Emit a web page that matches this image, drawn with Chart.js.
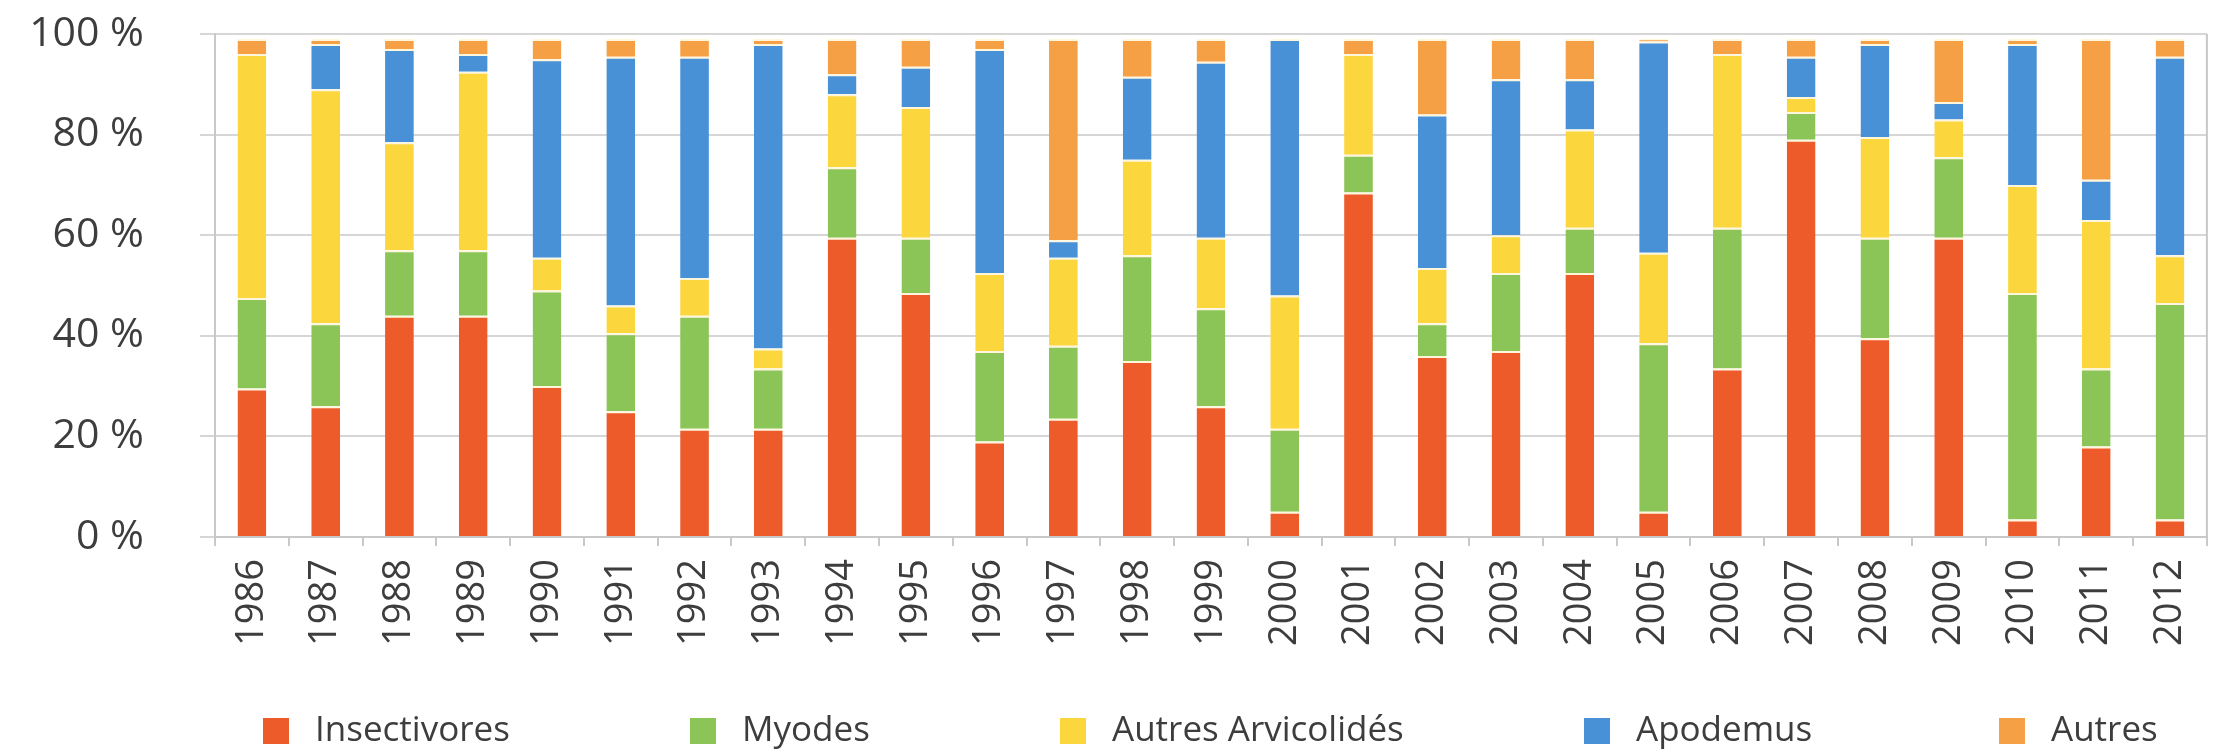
<!DOCTYPE html>
<html>
<head>
<meta charset="utf-8">
<script src="https://cdn.jsdelivr.net/npm/chart.js@4.4.1/dist/chart.umd.min.js"></script>
<style>
  html, body { margin: 0; padding: 0; background: #fff; }
  canvas { display: block; }
</style>
</head>
<body>
<canvas id="chart" width="2229" height="751"></canvas>
<script>
// Années
const years = ['1986', '1987', '1988', '1989', '1990', '1991', '1992', '1993', '1994',
  '1995', '1996', '1997', '1998', '1999', '2000', '2001', '2002', '2003', '2004',
  '2005', '2006', '2007', '2008', '2009', '2010', '2011', '2012'];

// Parts (%)
const insectivores = [29.5, 26, 44, 44, 30, 25, 21.5, 21.5, 59.5, 48.5, 19, 23.5, 35, 26,
  5, 68.5, 36, 37, 52.5, 5, 33.5, 79, 39.5, 59.5, 3.5, 18, 3.5];
const myodes = [18, 16.5, 13, 13, 19, 15.5, 22.5, 12, 14, 11, 18, 14.5, 21, 19.5,
  16.5, 7.5, 6.5, 15.5, 9, 33.5, 28, 5.5, 20, 16, 45, 15.5, 43];
const autresArvicolides = [48.5, 46.5, 21.5, 35.5, 6.5, 5.5, 7.5, 4, 14.5, 26, 15.5, 17.5, 19, 14,
  26.5, 20, 11, 7.5, 19.5, 18, 34.5, 3, 20, 7.5, 21.5, 29.5, 9.5];
const apodemus = [0, 9, 18.5, 3.5, 39.5, 49.5, 44, 60.5, 4, 8, 44.5, 3.5, 16.5, 35,
  51, 0, 30.5, 31, 10, 42, 0, 8, 18.5, 3.5, 28, 8, 39.5];
const autres = [3, 1, 2, 3, 4, 3.5, 3.5, 1, 7, 5.5, 2, 40, 7.5, 4.5,
  0, 3, 15, 8, 8, 0.5, 3, 3.5, 1, 12.5, 1, 28, 3.5];

const yTicks = [0, 20, 40, 60, 80, 100];

const FONT = "'Open Sans', 'Noto Sans', sans-serif";
const TEXT = '#3d3d3d';

function serie(label, data, color) {
  return {
    label: label,
    data: data,
    backgroundColor: color,
    borderColor: '#fff6dc',
    borderWidth: { top: 2, right: 0, bottom: 0, left: 0 },
    borderSkipped: 'start',
    categoryPercentage: 1,
    barPercentage: 0.39
  };
}

// Légende et cadre droit dessinés à la main
const legendePlugin = {
  id: 'legendeMaison',
  afterDraw(chart, args, opts) {
    const ctx = chart.ctx;
    const area = chart.chartArea;
    ctx.save();
    // bord droit du cadre
    ctx.strokeStyle = '#c8c8c8';
    ctx.lineWidth = 2;
    ctx.beginPath();
    ctx.moveTo(area.right, area.top);
    ctx.lineTo(area.right, area.bottom);
    ctx.stroke();

    ctx.font = '35px ' + FONT;
    ctx.textBaseline = 'middle';
    ctx.textAlign = 'left';
    chart.data.datasets.forEach((ds, i) => {
      const x = opts.xs[i];
      ctx.fillStyle = ds.backgroundColor;
      ctx.fillRect(x, opts.y - 13, 26, 26);
      ctx.fillStyle = TEXT;
      ctx.fillText(ds.label, x + 52, opts.y);
    });
    ctx.restore();
  }
};

const ctx = document.getElementById('chart').getContext('2d');
new Chart(ctx, {
  type: 'bar',
  data: {
    labels: years,
    datasets: [
      serie('Insectivores', insectivores, '#ee5b2a'),
      serie('Myodes', myodes, '#8cc557'),
      serie('Autres Arvicolidés', autresArvicolides, '#fbd63c'),
      serie('Apodemus', apodemus, '#4891d7'),
      serie('Autres', autres, '#f6a046')
    ]
  },
  options: {
    responsive: false,
    animation: false,
    devicePixelRatio: 1,
    layout: { padding: { left: 0, right: 21, top: 34, bottom: 64 } },
    plugins: {
      legend: { display: false },
      tooltip: { enabled: false },
      legendeMaison: { xs: [263, 690, 1060, 1584, 1999], y: 731 }
    },
    scales: {
      x: {
        stacked: true,
        offset: true,
        grid: { offset: true, drawOnChartArea: false, tickLength: 9, color: '#c8c8c8', lineWidth: 2 },
        border: { color: '#c8c8c8', width: 2 },
        ticks: {
          autoSkip: false, minRotation: 90, maxRotation: 90, padding: 13,
          color: TEXT, font: { family: FONT, size: 38 }
        },
        afterFit(scale) { scale.height = 150; }
      },
      y: {
        stacked: true,
        min: 0,
        max: 100,
        afterBuildTicks(scale) { scale.ticks = yTicks.map(v => ({ value: v })); },
        grid: { color: '#d6d6d6', lineWidth: 2, tickLength: 15 },
        border: { color: '#c8c8c8', width: 2 },
        ticks: {
          padding: 56, color: TEXT, font: { family: FONT, size: 41 },
          callback: v => v + ' %'
        },
        afterFit(scale) {
          scale.width = 215;
          // le padding des étiquettes ne doit pas pousser la zone du graphique
          scale.paddingTop = 0;
          scale.paddingBottom = 0;
        }
      }
    }
  },
  plugins: [legendePlugin]
});
</script>
</body>
</html>
